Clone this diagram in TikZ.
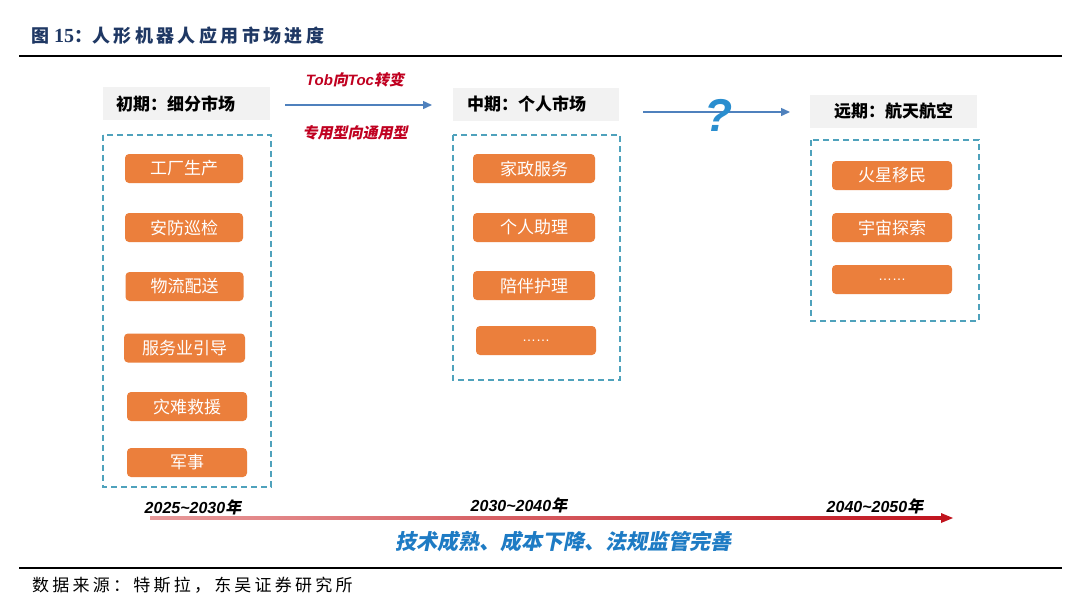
\documentclass[tikz,border=0pt]{standalone}
\usepackage{fontspec}
\usetikzlibrary{arrows.meta,calc}
\newfontfamily\cjk{Noto Sans CJK SC}
\newfontfamily\cjksl[FakeSlant=0.2]{Noto Sans CJK SC}
\newfontfamily\lsans{Liberation Sans}
\newfontfamily\lserif{Liberation Serif}
\definecolor{navy}{HTML}{1F3864}
\definecolor{orng}{HTML}{EB7F3C}
\definecolor{hdrgray}{HTML}{F2F2F2}
\definecolor{dashc}{HTML}{4FA2BC}
\definecolor{arrblue}{HTML}{4F81BD}
\definecolor{qblue}{HTML}{2A8ECF}
\definecolor{txtblue}{HTML}{1E7BC4}
\definecolor{darkred}{HTML}{C00020}
\definecolor{tlred}{HTML}{C0141E}
\definecolor{tlpink}{HTML}{E89A9A}
\newcommand{\fsz}[1]{\fontsize{#1}{#1}\selectfont}
\begin{document}
\begin{tikzpicture}[x=1pt,y=-1pt,
  obox/.style={fill=orng, rounded corners=4pt, minimum height=29pt, inner sep=0pt,
    text=white, font=\cjk\fsz{17}},
  hdr/.style={fill=hdrgray, minimum height=33pt, inner sep=0pt, font=\cjk\bfseries\fsz{17}},
  dbox/.style={draw=dashc, line width=1.3pt, dash pattern=on 6pt off 4pt},
  barrow/.style={draw=arrblue, line width=1.4pt, -{Triangle[length=9pt,width=8pt]}},
  redlbl/.style={text=darkred, inner sep=0pt},
  yearlbl/.style={text=black, inner sep=0pt},
]
\useasboundingbox (0,0) rectangle (1080,614);
\fill[white] (0,0) rectangle (1080,614);

% title and rules
\node[anchor=west, inner sep=0pt, text=navy] (title) at (31,36)
  {{\cjk\bfseries\fsz{18}图}\hspace{5pt}{\lserif\bfseries\fsz{20}15}{\cjk\bfseries\fsz{18}：}{\cjk\bfseries\fsz{18}\addfontfeatures{LetterSpace=19}人形机器人应用市场进度}};
\coordinate (r1a) at (19,56); \coordinate (r1b) at (1062,56);
\draw[line width=2pt] (r1a) -- (r1b);
\coordinate (r2a) at (19,568); \coordinate (r2b) at (1062,568);
\draw[line width=1.3pt] (r2a) -- (r2b);
\node[anchor=west, inner sep=0pt] (src) at (32,585)
  {\cjk\fsz{17}\addfontfeatures{LetterSpace=19}数据来源：特斯拉，东吴证券研究所};

% headers
\node[hdr, minimum width=167pt, text width=141pt, align=left] (h1) at (186.5,103.5) {初期：细分市场};
\node[hdr, minimum width=166pt, text width=138pt, align=left] (h2) at (536,104) {中期：个人市场};
\node[hdr, minimum width=167pt, text width=167pt, align=center] (h3) at (893.5,111) {远期：航天航空};

% dashed containers
\draw[dbox] (103,135) rectangle (271,487);
\draw[dbox] (453,135) rectangle (620,380);
\draw[dbox] (811,140) rectangle (979,321);

% column 1
\node[obox, minimum width=118pt] (a1) at (184,168.5) {工厂生产};
\node[obox, minimum width=118pt] (a2) at (184,227.5) {安防巡检};
\node[obox, minimum width=118pt] (a3) at (184.5,286.5) {物流配送};
\node[obox, minimum width=121pt] (a4) at (184.5,348) {服务业引导};
\node[obox, minimum width=120pt] (a5) at (187,406.5) {灾难救援};
\node[obox, minimum width=120pt] (a6) at (187,462.5) {军事};

% column 2
\node[obox, minimum width=122pt] (b1) at (534,168.5) {家政服务};
\node[obox, minimum width=122pt] (b2) at (534,227.5) {个人助理};
\node[obox, minimum width=122pt] (b3) at (534,285.5) {陪伴护理};
\node[obox, minimum width=120pt] (b4) at (536,340.5) {\lsans\fsz{14}……};

% column 3
\node[obox, minimum width=120pt] (c1) at (892,175.5) {火星移民};
\node[obox, minimum width=120pt] (c2) at (892,227.5) {宇宙探索};
\node[obox, minimum width=120pt] (c3) at (892,279.5) {\lsans\fsz{14}……};

% arrows between stages
\coordinate (a1s) at (285,105); \coordinate (a1e) at (432,105);
\draw[barrow] (a1s) -- (a1e);
\node[redlbl] (l1) at (355,80) {\lsans\bfseries\itshape\fsz{15}Tob{\cjksl\bfseries 向}Toc{\cjksl\bfseries 转变}};
\node[redlbl] (l2) at (355,133) {\cjksl\bfseries\fsz{15}专用型向通用型};
\coordinate (a2s) at (643,112); \coordinate (a2e) at (790,112);
\draw[barrow] (a2s) -- (a2e);
\node[text=qblue, inner sep=0pt, font=\lsans\bfseries\itshape\fsz{46}] (q) at (719,115) {?};

% timeline
\coordinate (t0) at (150,518); \coordinate (t1) at (953,518);
\shade[left color=tlpink, right color=tlred] ($(t0)+(0,-1.3)$) rectangle ($(t1)+(-9,1.3)$);
\fill[tlred] ($(t1)+(-12,-5)$) -- (t1) -- ($(t1)+(-12,5)$) -- cycle;
\node[yearlbl] (y1) at (193,507) {\lsans\bfseries\itshape\fsz{16}2025\textasciitilde 2030{\cjksl\bfseries 年}};
\node[yearlbl] (y2) at (519,505) {\lsans\bfseries\itshape\fsz{16}2030\textasciitilde 2040{\cjksl\bfseries 年}};
\node[yearlbl] (y3) at (875,506) {\lsans\bfseries\itshape\fsz{16}2040\textasciitilde 2050{\cjksl\bfseries 年}};
\node[text=txtblue, inner sep=0pt] (tb) at (563,541) {\cjksl\bfseries\fsz{21}技术成熟、成本下降、法规监管完善};
\end{tikzpicture}
\end{document}
